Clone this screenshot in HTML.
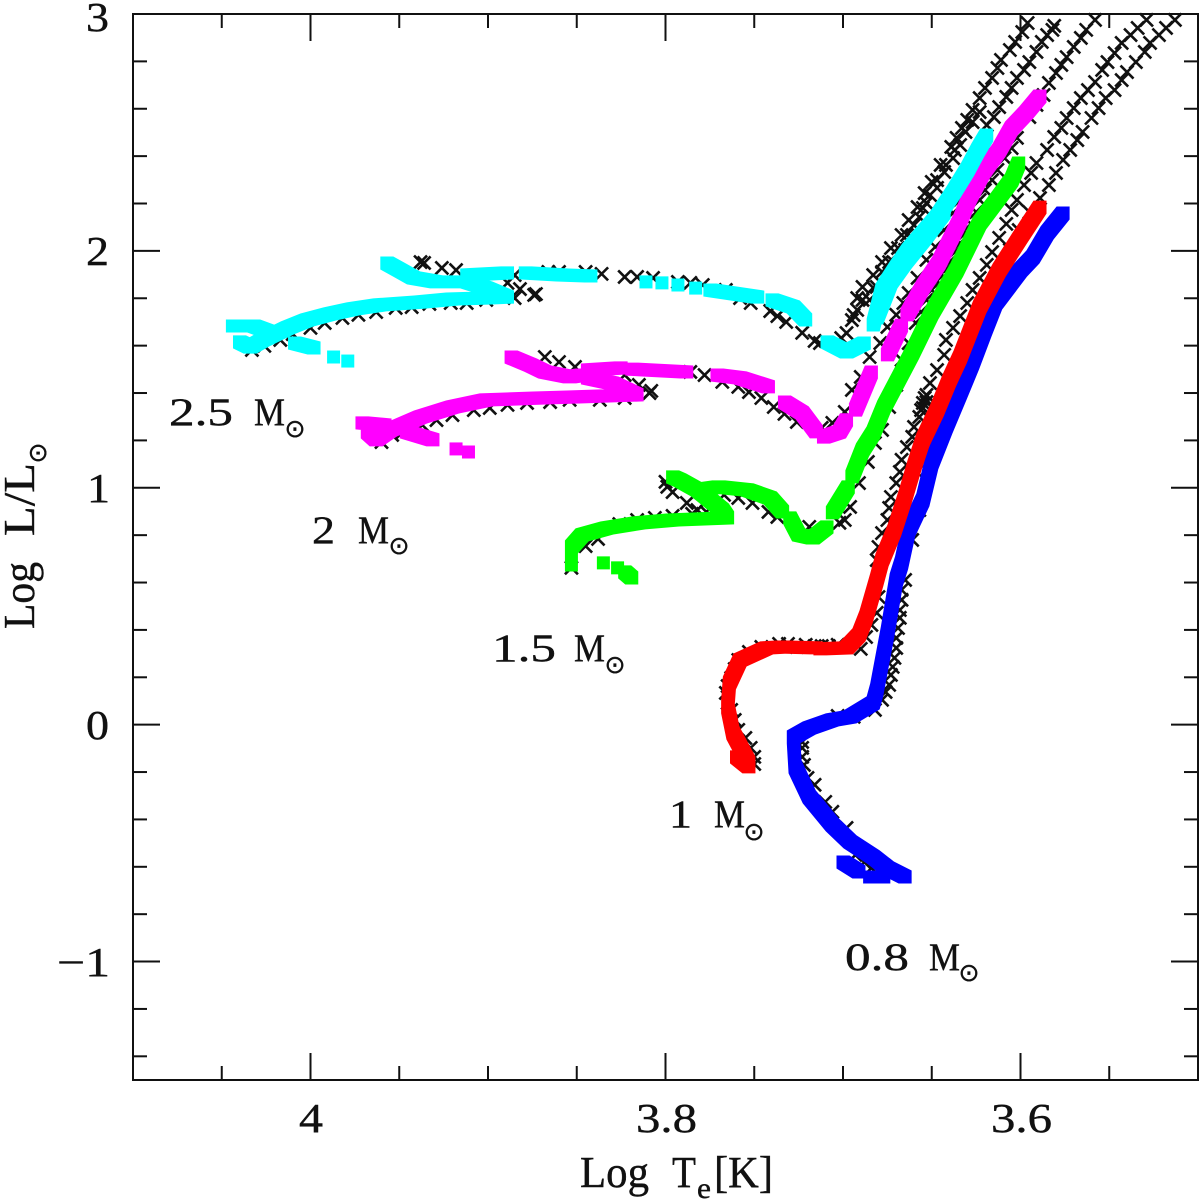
<!DOCTYPE html>
<html lang="en">
<head>
<meta charset="utf-8">
<title>HR diagram tracks</title>
<style>
html,body{margin:0;padding:0;background:#fff;}
svg{display:block;}
text{font-family:"Liberation Serif",serif;fill:#111;stroke:#111;stroke-width:0.4px;}
.tick{font-size:41px;}
.ann{font-size:39px;}
.title{font-size:44px;}
.sun{font-family:"DejaVu Sans",sans-serif;font-size:25px;text-anchor:middle;}
</style>
</head>
<body>
<svg id="chart" xmlns="http://www.w3.org/2000/svg" width="1200" height="1199" viewBox="0 0 1200 1199">
  <rect x="0" y="0" width="1200" height="1199" fill="#fff"/>
  <g id="xmarks"></g>
  <g id="tracks"></g>
  <g id="axes"></g>
  <rect x="133" y="14" width="1065" height="1066" fill="none" stroke="#111" stroke-width="2"/>

  <g>
    <text class="tick" x="86" y="31" textLength="23" lengthAdjust="spacingAndGlyphs">3</text>
    <text class="tick" x="86" y="265" textLength="23" lengthAdjust="spacingAndGlyphs">2</text>
    <text class="tick" x="87" y="502" textLength="23" lengthAdjust="spacingAndGlyphs">1</text>
    <text class="tick" x="86" y="739" textLength="23" lengthAdjust="spacingAndGlyphs">0</text>
    <text class="tick" x="57" y="976" textLength="53" lengthAdjust="spacingAndGlyphs">−1</text>
  </g>
  <g>
    <text class="tick" x="299" y="1132" textLength="24" lengthAdjust="spacingAndGlyphs">4</text>
    <text class="tick" x="636" y="1132" textLength="61" lengthAdjust="spacingAndGlyphs">3.8</text>
    <text class="tick" x="991" y="1132" textLength="61" lengthAdjust="spacingAndGlyphs">3.6</text>
  </g>

  <g>
    <text class="title" x="580" y="1187" textLength="69" lengthAdjust="spacingAndGlyphs">Log</text>
    <text class="title" x="672" y="1187" textLength="24" lengthAdjust="spacingAndGlyphs">T</text>
    <text x="697" y="1198" font-size="30" textLength="14" lengthAdjust="spacingAndGlyphs">e</text>
    <text class="title" x="714" y="1187" textLength="59" lengthAdjust="spacingAndGlyphs">[K]</text>
  </g>
  <g>
    <text class="title" transform="translate(34,629) rotate(-90)" textLength="67" lengthAdjust="spacingAndGlyphs">Log</text>
    <text class="title" transform="translate(34,536) rotate(-90)" textLength="73" lengthAdjust="spacingAndGlyphs">L/L</text>
    <text class="sun" transform="translate(46,453) rotate(-90)">⊙</text>
  </g>

  <g>
    <text class="ann" x="169" y="425" textLength="64" lengthAdjust="spacingAndGlyphs">2.5</text>
    <text class="ann" x="254" y="425" textLength="31" lengthAdjust="spacingAndGlyphs">M</text>
    <text class="sun" x="295" y="437">⊙</text>
  </g>
  <g>
    <text class="ann" x="312" y="543" textLength="23" lengthAdjust="spacingAndGlyphs">2</text>
    <text class="ann" x="358" y="543" textLength="31" lengthAdjust="spacingAndGlyphs">M</text>
    <text class="sun" x="399" y="554">⊙</text>
  </g>
  <g>
    <text class="ann" x="492" y="661" textLength="64" lengthAdjust="spacingAndGlyphs">1.5</text>
    <text class="ann" x="574" y="661" textLength="31" lengthAdjust="spacingAndGlyphs">M</text>
    <text class="sun" x="615" y="673">⊙</text>
  </g>
  <g>
    <text class="ann" x="669" y="827" textLength="23" lengthAdjust="spacingAndGlyphs">1</text>
    <text class="ann" x="714" y="827" textLength="31" lengthAdjust="spacingAndGlyphs">M</text>
    <text class="sun" x="754" y="840">⊙</text>
  </g>
  <g>
    <text class="ann" x="845" y="970" textLength="64" lengthAdjust="spacingAndGlyphs">0.8</text>
    <text class="ann" x="929" y="970" textLength="31" lengthAdjust="spacingAndGlyphs">M</text>
    <text class="sun" x="969" y="981">⊙</text>
  </g>
</svg>
<script>
const xMajorTicks = [4, 3.8, 3.6];
const xMinorTicks = [4.05, 3.95, 3.9, 3.85, 3.75, 3.7, 3.65, 3.55];
const yMajorTicks = [2, 1, 0, -1];
const yMinorTicks = [2.8, 2.6, 2.4, 2.2, 1.8, 1.6, 1.4, 1.2, 0.8, 0.6, 0.4, 0.2, -0.2, -0.4, -0.6, -0.8, -1.2, -1.4];

const crosses25 = [[4.033,1.582],[4.026,1.599],[4.017,1.624],[4.010,1.649],[4.000,1.675],[3.992,1.696],[3.982,1.717],[3.973,1.730],[3.963,1.742],[3.952,1.759],[3.943,1.763],[3.933,1.776],[3.921,1.780],[3.912,1.780],[3.901,1.793],[3.885,1.801],[3.882,1.839],[3.874,1.814],[3.873,1.818],[3.885,1.898],[3.889,1.865],[3.901,1.869],[3.938,1.953],[3.936,1.949],[3.926,1.928],[3.918,1.919],[3.866,1.911],[3.860,1.911],[3.845,1.911],[3.836,1.903],[3.823,1.890],[3.816,1.890],[3.807,1.886],[3.793,1.869],[3.786,1.865],[3.779,1.856],[3.766,1.835],[3.758,1.801],[3.752,1.780],[3.741,1.746],[3.737,1.725],[3.732,1.700],[3.723,1.654],[3.716,1.620],[3.713,1.611],[3.701,1.632],[3.698,1.653],[3.695,1.708],[3.694,1.729],[3.692,1.801],[3.689,1.848],[3.683,1.898],[3.678,1.953],[3.673,2.012],[3.667,2.067],[3.663,2.130],[3.658,2.185],[3.654,2.244],[3.650,2.291],[3.645,2.363],[3.639,2.439],[3.636,2.477],[3.633,2.519],[3.630,2.553],[3.627,2.595],[3.623,2.645],[3.620,2.688],[3.616,2.730],[3.613,2.772],[3.611,2.806],[3.606,2.848],[3.603,2.882],[3.599,2.924],[3.596,2.962],[3.685,1.793],[3.681,1.848],[3.675,1.890],[3.671,1.949],[3.665,2.004],[3.661,2.055],[3.657,2.143],[3.653,2.202],[3.647,2.266],[3.643,2.333],[3.638,2.392],[3.634,2.447],[3.631,2.502],[3.627,2.544],[3.623,2.586],[3.692,1.751],[3.689,1.793],[3.683,1.844],[3.678,1.911],[3.674,1.953],[3.669,2.012],[3.664,2.067],[3.660,2.109],[3.655,2.181],[3.651,2.236],[3.647,2.299],[3.642,2.363],[3.637,2.426]];
const crosses20 = [[3.960,1.193],[3.954,1.223],[3.948,1.236],[3.937,1.265],[3.929,1.286],[3.920,1.307],[3.908,1.328],[3.899,1.337],[3.889,1.350],[3.878,1.358],[3.865,1.362],[3.854,1.371],[3.837,1.371],[3.823,1.379],[3.808,1.409],[3.809,1.400],[3.815,1.434],[3.823,1.476],[3.833,1.468],[3.851,1.510],[3.860,1.531],[3.868,1.552],[3.786,1.489],[3.778,1.476],[3.768,1.447],[3.759,1.426],[3.753,1.404],[3.746,1.379],[3.739,1.341],[3.733,1.312],[3.726,1.278],[3.712,1.253],[3.706,1.274],[3.699,1.320],[3.695,1.413],[3.690,1.468],[3.685,1.552],[3.679,1.611],[3.675,1.679],[3.670,1.730],[3.666,1.780],[3.663,1.822],[3.658,1.886],[3.653,1.962],[3.648,2.017],[3.643,2.088],[3.638,2.160],[3.634,2.215],[3.630,2.266],[3.626,2.333],[3.623,2.384],[3.620,2.447],[3.619,2.531],[3.615,2.565],[3.612,2.607],[3.608,2.650],[3.605,2.688],[3.602,2.730],[3.598,2.764],[3.595,2.797],[3.591,2.840],[3.588,2.882],[3.585,2.911],[3.582,2.933],[3.581,2.950]];
const crosses15 = [[3.853,0.662],[3.845,0.754],[3.838,0.784],[3.826,0.847],[3.816,0.864],[3.806,0.873],[3.796,0.881],[3.785,0.890],[3.777,0.898],[3.782,0.906],[3.788,0.936],[3.796,0.982],[3.799,1.004],[3.800,1.025],[3.767,0.970],[3.759,0.957],[3.751,0.936],[3.742,0.898],[3.737,0.877],[3.719,0.835],[3.702,0.852],[3.699,0.864],[3.696,0.919],[3.691,1.020],[3.686,1.109],[3.682,1.189],[3.678,1.244],[3.674,1.341],[3.670,1.434],[3.667,1.540],[3.663,1.611],[3.659,1.696],[3.656,1.742],[3.653,1.793],[3.650,1.835],[3.647,1.873],[3.643,1.915],[3.640,1.953],[3.637,1.995],[3.634,2.033],[3.631,2.076],[3.628,2.114],[3.625,2.164],[3.623,2.215],[3.620,2.257],[3.616,2.299],[3.613,2.342],[3.609,2.392],[3.605,2.434],[3.602,2.477],[3.595,2.565],[3.591,2.616],[3.587,2.658],[3.584,2.709],[3.580,2.751],[3.577,2.785],[3.574,2.818],[3.570,2.861],[3.566,2.899],[3.563,2.933],[3.558,2.975]];
const crosses10 = [[3.750,-0.166],[3.750,-0.136],[3.752,-0.098],[3.755,-0.056],[3.759,-0.022],[3.761,0.020],[3.763,0.062],[3.765,0.092],[3.766,0.134],[3.765,0.163],[3.763,0.197],[3.761,0.235],[3.759,0.273],[3.753,0.307],[3.746,0.328],[3.736,0.341],[3.731,0.341],[3.726,0.328],[3.721,0.337],[3.716,0.332],[3.712,0.332],[3.708,0.332],[3.703,0.337],[3.690,0.320],[3.687,0.370],[3.684,0.421],[3.681,0.472],[3.680,0.539],[3.681,0.695],[3.680,0.750],[3.678,0.809],[3.675,0.864],[3.674,0.915],[3.673,0.961],[3.670,1.020],[3.668,1.067],[3.667,1.118],[3.664,1.172],[3.661,1.215],[3.660,1.257],[3.657,1.299],[3.656,1.328],[3.655,1.337],[3.655,1.358],[3.653,1.362],[3.654,1.379],[3.653,1.392],[3.651,1.442],[3.647,1.497],[3.643,1.561],[3.642,1.624],[3.638,1.675],[3.634,1.725],[3.630,1.780],[3.627,1.835],[3.623,1.886],[3.619,1.941],[3.616,1.995],[3.612,2.055],[3.608,2.114],[3.605,2.173],[3.602,2.215],[3.598,2.278],[3.594,2.329],[3.591,2.371],[3.585,2.426],[3.581,2.481],[3.577,2.519],[3.574,2.561],[3.570,2.603],[3.566,2.645],[3.562,2.679],[3.558,2.713],[3.554,2.764],[3.551,2.797],[3.547,2.835],[3.543,2.878],[3.538,2.911],[3.534,2.941],[3.529,2.975]];
const crosses08 = [[3.684,-0.605],[3.688,-0.580],[3.693,-0.550],[3.698,-0.436],[3.706,-0.368],[3.710,-0.326],[3.716,-0.254],[3.720,-0.225],[3.722,-0.170],[3.723,-0.136],[3.723,-0.098],[3.723,-0.073],[3.703,0.037],[3.694,0.033],[3.682,0.062],[3.678,0.105],[3.676,0.138],[3.674,0.168],[3.673,0.210],[3.672,0.244],[3.671,0.282],[3.670,0.324],[3.670,0.366],[3.669,0.408],[3.668,0.451],[3.668,0.484],[3.667,0.527],[3.667,0.569],[3.665,0.611],[3.661,0.780],[3.657,0.906],[3.653,1.075],[3.649,1.181],[3.645,1.286],[3.640,1.392],[3.636,1.476],[3.632,1.548],[3.628,1.645],[3.623,1.751],[3.617,1.835],[3.611,1.919],[3.606,2.004],[3.601,2.088],[3.595,2.164],[3.589,2.223],[3.584,2.278],[3.580,2.329],[3.576,2.384],[3.572,2.426],[3.568,2.468],[3.565,2.502],[3.560,2.561],[3.556,2.603],[3.552,2.645],[3.547,2.679],[3.543,2.721],[3.540,2.755],[3.535,2.797],[3.530,2.840],[3.527,2.878],[3.522,2.911],[3.518,2.941],[3.513,2.975]];

const cyanTrack = [
  [[4.044,1.683],[4.032,1.683],[4.023,1.658]],
  [[4.040,1.616],[4.034,1.594],[4.027,1.624],[4.013,1.675],[4.002,1.708],[3.989,1.734],[3.976,1.755],[3.961,1.772],[3.938,1.784],[3.920,1.797],[3.901,1.801],[3.889,1.805],[3.901,1.843],[3.912,1.869],[3.929,1.869],[3.942,1.886],[3.950,1.920],[3.957,1.949]],
  [[3.912,1.898],[3.889,1.907]],
  [[3.879,1.907],[3.858,1.898],[3.842,1.894]],
  [[3.811,1.869]],[[3.802,1.865]],[[3.793,1.856]],[[3.783,1.843]],
  [[3.775,1.835],[3.748,1.805]],
  [[3.740,1.793],[3.728,1.763],[3.721,1.708]],
  [[3.709,1.616],[3.698,1.573],[3.688,1.611]],
  [[3.683,1.687],[3.678,1.835],[3.670,1.928],[3.663,2.004],[3.647,2.143],[3.638,2.245],[3.630,2.342],[3.624,2.426],[3.619,2.489]],
  [[3.681,1.717],[3.673,1.869],[3.665,1.953],[3.654,2.055],[3.643,2.164]],
  [[4.009,1.611],[3.998,1.590]],
  [[3.987,1.552]],[[3.979,1.535]]
];
const magentaTrack = [
  [[3.971,1.274],[3.958,1.265]],
  [[3.968,1.236],[3.963,1.202],[3.955,1.244],[3.938,1.299],[3.920,1.341],[3.901,1.371],[3.871,1.379],[3.852,1.383],[3.816,1.392],[3.830,1.442],[3.844,1.464]],
  [[3.887,1.552],[3.876,1.518],[3.868,1.489],[3.854,1.468],[3.847,1.476]],
  [[3.844,1.497],[3.825,1.506]],
  [[3.819,1.501],[3.788,1.489]],
  [[3.771,1.476],[3.758,1.464],[3.742,1.426]],
  [[3.733,1.362],[3.723,1.316],[3.715,1.236]],
  [[3.711,1.214],[3.702,1.236],[3.698,1.287]],
  [[3.693,1.328],[3.684,1.489]],
  [[3.675,1.561],[3.667,1.686]],
  [[3.664,1.730],[3.655,1.848],[3.646,1.949],[3.634,2.130],[3.629,2.219],[3.621,2.333],[3.612,2.426],[3.605,2.519],[3.597,2.582],[3.589,2.654]],
  [[3.946,1.236],[3.931,1.202]],
  [[3.918,1.164]],[[3.911,1.151]]
];
const greenTrack = [
  [[3.853,0.674],[3.853,0.750],[3.847,0.801],[3.833,0.830],[3.815,0.852],[3.796,0.864],[3.765,0.873],[3.768,0.906],[3.777,0.961],[3.782,0.991],[3.792,1.033],[3.796,1.046]],
  [[3.782,0.991],[3.770,1.004],[3.754,0.991],[3.741,0.957],[3.734,0.898]],
  [[3.730,0.873],[3.725,0.801],[3.717,0.788],[3.709,0.835]],
  [[3.706,0.894],[3.697,1.004]],
  [[3.695,1.046],[3.689,1.160],[3.683,1.231],[3.677,1.341],[3.669,1.455],[3.661,1.569],[3.650,1.738],[3.636,1.919],[3.623,2.118],[3.612,2.228],[3.605,2.299],[3.601,2.371]],
  [[3.835,0.683]],[[3.827,0.662]],
  [[3.823,0.645],[3.819,0.619]]
];
const redTrack = [
  [[3.760,-0.136],[3.753,-0.178]],
  [[3.753,-0.162],[3.762,-0.035],[3.765,0.075],[3.764,0.176],[3.758,0.273],[3.743,0.324],[3.734,0.328],[3.715,0.324]],
  [[3.713,0.320],[3.698,0.324],[3.691,0.379],[3.687,0.455],[3.681,0.611],[3.678,0.695],[3.671,0.822],[3.665,0.961],[3.660,1.088],[3.655,1.202],[3.647,1.328],[3.640,1.455],[3.634,1.552],[3.623,1.763],[3.612,1.919],[3.600,2.059],[3.589,2.185]]
];
const blueTrack = [
  [[3.665,-0.643],[3.675,-0.605],[3.683,-0.558],[3.696,-0.495],[3.706,-0.423],[3.719,-0.305],[3.727,-0.178],[3.728,-0.052],[3.719,-0.014],[3.706,0.020],[3.696,0.033],[3.683,0.092],[3.681,0.147],[3.675,0.387],[3.670,0.611],[3.667,0.683],[3.663,0.822],[3.655,0.949],[3.650,1.105],[3.642,1.257],[3.634,1.400],[3.627,1.527],[3.620,1.666],[3.614,1.780],[3.600,1.919],[3.593,1.974],[3.585,2.076],[3.576,2.160]],
  [[3.685,-0.643],[3.677,-0.643]],
  [[3.700,-0.580],[3.691,-0.622]]
];

const NS = 'http://www.w3.org/2000/svg';
const xMin = 4.1, xMax = 3.5, yMin = -1.5, yMax = 3;
const plotLeft = 133, plotRight = 1198, plotTop = 14, plotBottom = 1080;
function xPos(v){ return plotLeft + (xMin - v) / (xMin - xMax) * (plotRight - plotLeft); }
function yPos(v){ return plotBottom - (v - yMin) / (yMax - yMin) * (plotBottom - plotTop); }

const axesGroup = document.getElementById('axes');
function addTick(x1, y1, x2, y2, label){
  const t = document.createElementNS(NS, 'line');
  t.setAttribute('x1', x1); t.setAttribute('y1', y1);
  t.setAttribute('x2', x2); t.setAttribute('y2', y2);
  t.setAttribute('stroke', '#111'); t.setAttribute('stroke-width', '2');
  
  
  axesGroup.appendChild(t);
}
function drawXTicks(values, len, label){
  values.forEach(function(v){
    const px = xPos(v);
    addTick(px, plotBottom, px, plotBottom - len, label);
    addTick(px, plotTop, px, plotTop + len, label);
  });
}
function drawYTicks(values, len, label){
  values.forEach(function(v){
    const py = yPos(v);
    addTick(plotLeft, py, plotLeft + len, py, label);
    addTick(plotRight, py, plotRight - len, py, label);
  });
}
drawXTicks(xMajorTicks, 27, 'x-major-tick');
drawXTicks(xMinorTicks, 14, 'x-minor-tick');
drawYTicks(yMajorTicks, 27, 'y-major-tick');
drawYTicks(yMinorTicks, 14, 'y-minor-tick');

const crossGroup = document.getElementById('xmarks');
function drawCrosses(points, label){
  const r = 6.5;
  points.forEach(function(p){
    const cx = xPos(p[0]), cy = yPos(p[1]);
    const m = document.createElementNS(NS, 'path');
    m.setAttribute('d', 'M' + (cx - r) + ' ' + (cy - r) + 'L' + (cx + r) + ' ' + (cy + r) + 'M' + (cx - r) + ' ' + (cy + r) + 'L' + (cx + r) + ' ' + (cy - r));
    m.setAttribute('stroke', '#111');
    m.setAttribute('stroke-width', '2.6');
    m.setAttribute('fill', 'none');
    
    
    crossGroup.appendChild(m);
  });
}
drawCrosses(crosses25, 'cross-2-5-msun');
drawCrosses(crosses20, 'cross-2-msun');
drawCrosses(crosses15, 'cross-1-5-msun');
drawCrosses(crosses10, 'cross-1-msun');
drawCrosses(crosses08, 'cross-0-8-msun');

// A track is a square marker swept along its values, which gives the flat ends and
// the extra width on diagonals seen in the original.
function sweptSquare(a, b, h){
  const p = a[0] <= b[0] ? a : b;
  const q = a[0] <= b[0] ? b : a;
  const x1 = p[0], y1 = p[1], x2 = q[0], y2 = q[1];
  if (y1 <= y2) {
    return 'M' + (x1 - h) + ' ' + (y1 - h) + 'L' + (x1 + h) + ' ' + (y1 - h) + 'L' + (x2 + h) + ' ' + (y2 - h) + 'L' + (x2 + h) + ' ' + (y2 + h) + 'L' + (x2 - h) + ' ' + (y2 + h) + 'L' + (x1 - h) + ' ' + (y1 + h) + 'Z';
  }
  return 'M' + (x1 - h) + ' ' + (y1 + h) + 'L' + (x1 - h) + ' ' + (y1 - h) + 'L' + (x2 - h) + ' ' + (y2 - h) + 'L' + (x2 + h) + ' ' + (y2 - h) + 'L' + (x2 + h) + ' ' + (y2 + h) + 'L' + (x1 + h) + ' ' + (y1 + h) + 'Z';
}
const trackGroup = document.getElementById('tracks');
function drawTrack(segments, color, label){
  const h = 6.5;
  segments.forEach(function(seg){
    const pts = seg.map(function(p){ return [xPos(p[0]), yPos(p[1])]; });
    let d = '';
    if (pts.length === 1) {
      d = sweptSquare(pts[0], pts[0], h);
    }
    for (let i = 1; i < pts.length; i++) {
      d += sweptSquare(pts[i - 1], pts[i], h);
    }
    const l = document.createElementNS(NS, 'path');
    l.setAttribute('d', d);
    l.setAttribute('fill', color);
    l.setAttribute('fill-rule', 'nonzero');
    
    
    trackGroup.appendChild(l);
  });
}
drawTrack(blueTrack, '#0000ff', 'track-0-8-msun');
drawTrack(redTrack, '#ff0000', 'track-1-msun');
drawTrack(greenTrack, '#00ff00', 'track-1-5-msun');
drawTrack(magentaTrack, '#ff00ff', 'track-2-msun');
drawTrack(cyanTrack, '#00ffff', 'track-2-5-msun');
</script>
</body>
</html>
